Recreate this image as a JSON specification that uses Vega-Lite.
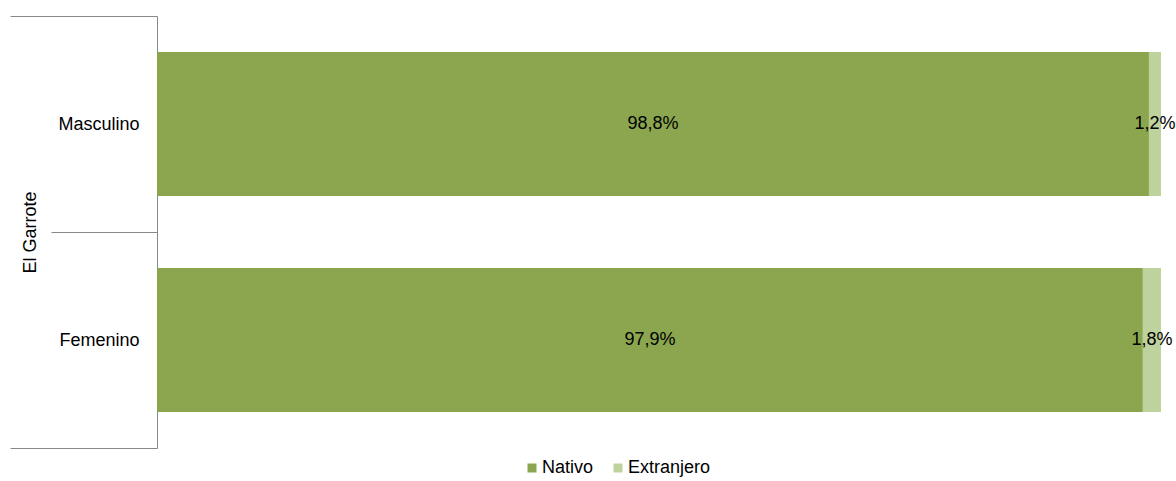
{
  "$schema": "https://vega.github.io/schema/vega-lite/v6.json",
  "width": 1004,
  "height": 432,
  "autosize": {"type": "none"},
  "padding": {"left": 157, "top": 16, "right": 15, "bottom": 33},
  "background": "white",
  "config": {
    "locale": {"number": {"decimal": ",", "thousands": ".", "grouping": [3], "currency": ["", " €"]}},
    "font": "Liberation Sans",
    "view": {"stroke": null}
  },
  "data": {
    "values": [
      {"grupo": "Masculino", "origen": "Nativo", "valor": 0.988},
      {"grupo": "Masculino", "origen": "Extranjero", "valor": 0.012},
      {"grupo": "Femenino", "origen": "Nativo", "valor": 0.979},
      {"grupo": "Femenino", "origen": "Extranjero", "valor": 0.018}
    ]
  },
  "encoding": {
    "y": {
      "field": "grupo",
      "type": "nominal",
      "sort": ["Masculino", "Femenino"],
      "scale": {"paddingInner": 0, "paddingOuter": 0},
      "axis": {
        "title": "El Garrote",
        "titleFont": "Liberation Sans",
        "titleFontSize": 18,
        "titleFontWeight": "normal",
        "titleColor": "#000000",
        "titleAngle": -90,
        "titleX": -127,
        "titleY": 216,
        "titleAlign": "center",
        "titleBaseline": "middle",
        "tickBand": "extent",
        "tickSize": {"condition": {"test": "datum.value === 'Masculino' && !datum.extra", "value": 106}, "value": 147},
        "tickColor": "#888888",
        "tickWidth": 1,
        "domainColor": "#888888",
        "domainWidth": 1,
        "labelPadding": {"condition": {"test": "datum.value === 'Masculino'", "value": -88}, "value": -129},
        "labelFontSize": 18,
        "labelColor": "#000000",
        "labelFont": "Liberation Sans",
        "grid": false
      }
    },
    "x": {
      "field": "valor",
      "type": "quantitative",
      "stack": "normalize",
      "axis": null
    }
  },
  "layer": [
    {
      "mark": {"type": "bar", "height": {"band": 0.667}},
      "encoding": {
        "color": {
          "field": "origen",
          "type": "nominal",
          "sort": ["Nativo", "Extranjero"],
          "scale": {"domain": ["Nativo", "Extranjero"], "range": ["#8BA64F", "#BDD29C"]},
          "legend": {
            "title": null,
            "orient": "none",
            "direction": "horizontal",
            "legendX": 366,
            "legendY": 443,
            "symbolType": "square",
            "symbolSize": 81,
            "symbolStrokeWidth": 0,
            "labelFontSize": 18,
            "labelFont": "Liberation Sans",
            "labelColor": "#000000",
            "columnPadding": 15,
            "labelOffset": 1
          }
        },
        "order": {"field": "origen", "sort": "descending"}
      }
    },
    {
      "mark": {"type": "text", "fontSize": 18, "color": "#000000", "font": "Liberation Sans"},
      "encoding": {
        "x": {"field": "valor", "type": "quantitative", "stack": "normalize", "bandPosition": 0.5},
        "detail": {"field": "origen"},
        "order": {"field": "origen", "sort": "descending"},
        "text": {"field": "valor", "type": "quantitative", "format": ".1%"}
      }
    }
  ]
}
